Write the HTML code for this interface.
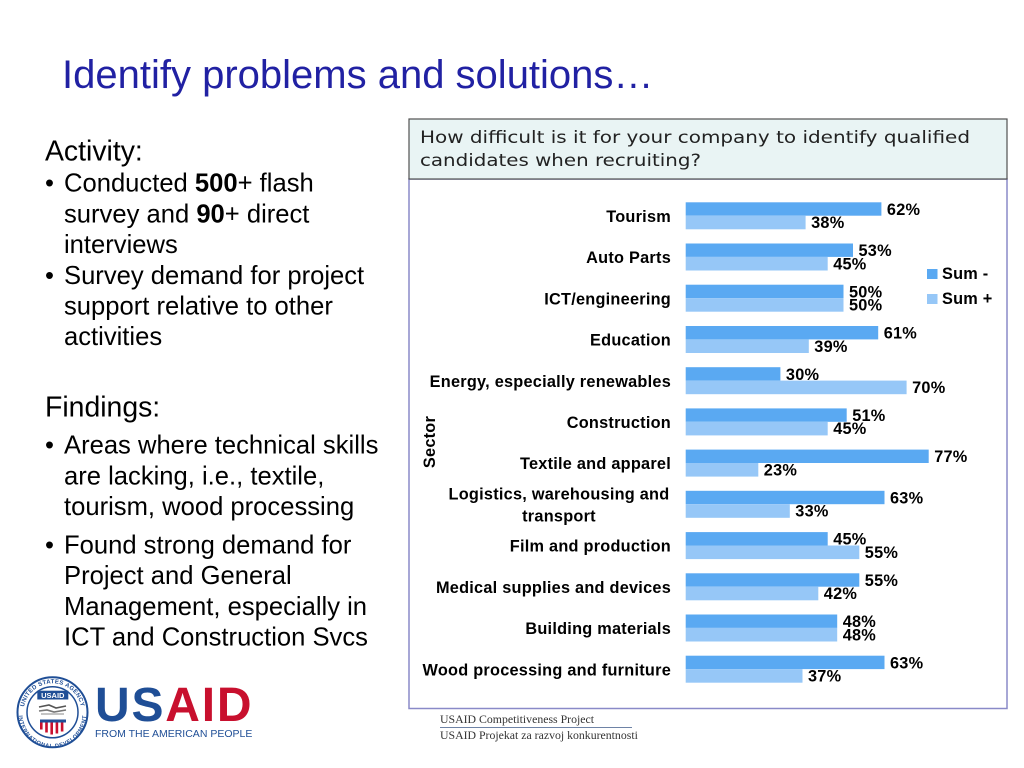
<!DOCTYPE html>
<html>
<head>
<meta charset="utf-8">
<style>
  html, body { margin:0; padding:0; background:#ffffff; }
  body { width:1024px; height:768px; overflow:hidden; }
  svg { display:block; }
  .cat { font-family:"Liberation Sans", Arial, sans-serif; font-weight:bold; font-size:16.3px; letter-spacing:0.25px; fill:#000; }
  .val { font-family:"Liberation Sans", Arial, sans-serif; font-weight:bold; font-size:16.3px; letter-spacing:0.25px; fill:#000; }
  .lt { font-family:"Liberation Sans", Arial, sans-serif; font-size:25.6px; fill:#000; }
  .hd { font-family:"Liberation Sans", Arial, sans-serif; font-size:28.4px; fill:#000; }
</style>
</head>
<body>
<svg width="1024" height="768" viewBox="0 0 1024 768" xmlns="http://www.w3.org/2000/svg">
  <rect x="0" y="0" width="1024" height="768" fill="#ffffff"/>

  <!-- Title -->
  <text x="62" y="88" font-family="Liberation Sans, Arial, sans-serif" font-size="40" fill="#2121A3">Identify problems and solutions…</text>

  <!-- Left text -->
  <text class="hd" x="45" y="160.5">Activity:</text>
  <text class="lt" x="45" y="191.7">•</text>
  <text class="lt" x="64" y="191.7">Conducted <tspan font-weight="bold">500</tspan>+ flash</text>
  <text class="lt" x="64" y="222.4">survey and <tspan font-weight="bold">90</tspan>+ direct</text>
  <text class="lt" x="64" y="253.1">interviews</text>
  <text class="lt" x="45" y="283.8">•</text>
  <text class="lt" x="64" y="283.8">Survey demand for project</text>
  <text class="lt" x="64" y="314.5">support relative to other</text>
  <text class="lt" x="64" y="345.2">activities</text>

  <text class="hd" x="45" y="416.5">Findings:</text>
  <text class="lt" x="45" y="453.7">•</text>
  <text class="lt" x="64" y="453.7">Areas where technical skills</text>
  <text class="lt" x="64" y="484.4">are lacking, i.e., textile,</text>
  <text class="lt" x="64" y="515.1">tourism, wood processing</text>
  <text class="lt" x="45" y="553.5">•</text>
  <text class="lt" x="64" y="553.5">Found strong demand for</text>
  <text class="lt" x="64" y="584.2">Project and General</text>
  <text class="lt" x="64" y="614.9">Management, especially in</text>
  <text class="lt" x="64" y="645.6">ICT and Construction Svcs</text>

  <!-- Chart box -->
  <rect x="409" y="179" width="598" height="529.5" fill="#ffffff" stroke="#8A8AC8" stroke-width="1.5"/>
  <rect x="409" y="119" width="598" height="60" fill="#E9F4F4" stroke="#505050" stroke-width="1.2"/>
  <text x="420" y="143" font-family="DejaVu Sans, Verdana, sans-serif" font-size="17" fill="#222" textLength="550" lengthAdjust="spacingAndGlyphs">How difficult is it for your company to identify qualified</text>
  <text x="420" y="166" font-family="DejaVu Sans, Verdana, sans-serif" font-size="17" fill="#222" textLength="281" lengthAdjust="spacingAndGlyphs">candidates when recruiting?</text>

  <!-- Sector axis title -->
  <text class="cat" transform="translate(435,442) rotate(-90)" text-anchor="middle" x="0" y="0">Sector</text>

  <!-- Bars -->
  <g>
    <rect x="685.7" y="202.3" width="195.7" height="13.4" fill="#5AA9F2"/>
    <rect x="685.7" y="215.7" width="119.9" height="13.6" fill="#96C7F7"/>
    <rect x="685.7" y="243.5" width="167.3" height="13.4" fill="#5AA9F2"/>
    <rect x="685.7" y="256.9" width="142.0" height="13.6" fill="#96C7F7"/>
    <rect x="685.7" y="284.7" width="157.8" height="13.4" fill="#5AA9F2"/>
    <rect x="685.7" y="298.1" width="157.8" height="13.6" fill="#96C7F7"/>
    <rect x="685.7" y="326.0" width="192.5" height="13.4" fill="#5AA9F2"/>
    <rect x="685.7" y="339.4" width="123.1" height="13.6" fill="#96C7F7"/>
    <rect x="685.7" y="367.2" width="94.7" height="13.4" fill="#5AA9F2"/>
    <rect x="685.7" y="380.6" width="220.9" height="13.6" fill="#96C7F7"/>
    <rect x="685.7" y="408.4" width="161.0" height="13.4" fill="#5AA9F2"/>
    <rect x="685.7" y="421.8" width="142.0" height="13.6" fill="#96C7F7"/>
    <rect x="685.7" y="449.6" width="243.0" height="13.4" fill="#5AA9F2"/>
    <rect x="685.7" y="463.0" width="72.6" height="13.6" fill="#96C7F7"/>
    <rect x="685.7" y="490.8" width="198.8" height="13.4" fill="#5AA9F2"/>
    <rect x="685.7" y="504.2" width="104.1" height="13.6" fill="#96C7F7"/>
    <rect x="685.7" y="532.1" width="142.0" height="13.4" fill="#5AA9F2"/>
    <rect x="685.7" y="545.5" width="173.6" height="13.6" fill="#96C7F7"/>
    <rect x="685.7" y="573.3" width="173.6" height="13.4" fill="#5AA9F2"/>
    <rect x="685.7" y="586.7" width="132.6" height="13.6" fill="#96C7F7"/>
    <rect x="685.7" y="614.5" width="151.5" height="13.4" fill="#5AA9F2"/>
    <rect x="685.7" y="627.9" width="151.5" height="13.6" fill="#96C7F7"/>
    <rect x="685.7" y="655.7" width="198.8" height="13.4" fill="#5AA9F2"/>
    <rect x="685.7" y="669.1" width="116.8" height="13.6" fill="#96C7F7"/>
  </g>

  <!-- Category labels -->
  <g text-anchor="end">
    <text class="cat" x="671" y="221.9">Tourism</text>
    <text class="cat" x="671" y="263.1">Auto Parts</text>
    <text class="cat" x="671" y="304.3">ICT/engineering</text>
    <text class="cat" x="671" y="345.6">Education</text>
    <text class="cat" x="671" y="386.8">Energy, especially renewables</text>
    <text class="cat" x="671" y="428.0">Construction</text>
    <text class="cat" x="671" y="469.2">Textile and apparel</text>
    <text class="cat" x="671" y="551.7">Film and production</text>
    <text class="cat" x="671" y="592.9">Medical supplies and devices</text>
    <text class="cat" x="671" y="634.1">Building materials</text>
    <text class="cat" x="671" y="675.3">Wood processing and furniture</text>
  </g>
  <text class="cat" x="559" y="499.3" text-anchor="middle">Logistics, warehousing and</text>
  <text class="cat" x="559" y="521.3" text-anchor="middle">transport</text>

  <!-- Value labels -->
  <g>
    <text class="val" x="886.9" y="214.9">62%</text>
    <text class="val" x="811.1" y="228.1">38%</text>
    <text class="val" x="858.5" y="256.1">53%</text>
    <text class="val" x="833.2" y="269.3">45%</text>
    <text class="val" x="849.0" y="297.3">50%</text>
    <text class="val" x="849.0" y="310.5">50%</text>
    <text class="val" x="883.7" y="338.6">61%</text>
    <text class="val" x="814.3" y="351.8">39%</text>
    <text class="val" x="785.9" y="379.8">30%</text>
    <text class="val" x="912.1" y="393.0">70%</text>
    <text class="val" x="852.2" y="421.0">51%</text>
    <text class="val" x="833.2" y="434.2">45%</text>
    <text class="val" x="934.2" y="462.2">77%</text>
    <text class="val" x="763.8" y="475.4">23%</text>
    <text class="val" x="890.0" y="503.4">63%</text>
    <text class="val" x="795.3" y="516.6">33%</text>
    <text class="val" x="833.2" y="544.7">45%</text>
    <text class="val" x="864.8" y="557.9">55%</text>
    <text class="val" x="864.8" y="585.9">55%</text>
    <text class="val" x="823.8" y="599.1">42%</text>
    <text class="val" x="842.7" y="627.1">48%</text>
    <text class="val" x="842.7" y="640.3">48%</text>
    <text class="val" x="890.0" y="668.3">63%</text>
    <text class="val" x="808.0" y="681.5">37%</text>
  </g>

  <!-- Legend -->
  <rect x="927" y="269" width="10.5" height="10" fill="#5AA9F2"/>
  <text class="val" x="942" y="279">Sum -</text>
  <rect x="927" y="294" width="10.5" height="10" fill="#96C7F7"/>
  <text class="val" x="942" y="304">Sum +</text>

  <!-- Footer project text -->
  <text x="440" y="723" font-family="Liberation Serif, Times New Roman, serif" font-size="11.8" fill="#333">USAID Competitiveness Project</text>
  <line x1="440" y1="727.5" x2="632" y2="727.5" stroke="#6E83A6" stroke-width="1"/>
  <text x="440" y="739" font-family="Liberation Serif, Times New Roman, serif" font-size="11.8" fill="#333">USAID Projekat za razvoj konkurentnosti</text>

  <!-- USAID seal -->
  <g>
    <circle cx="52.5" cy="712.3" r="35" fill="#ffffff" stroke="#1F4E96" stroke-width="2"/>
    <circle cx="52.5" cy="712.3" r="25.5" fill="#ffffff" stroke="#1F4E96" stroke-width="1.5"/>
    <defs>
      <path id="arcTop" d="M 23.5 712.3 A 29 29 0 0 1 81.5 712.3"/>
      <path id="arcBot" d="M 22 714 A 30.5 30.5 0 0 0 83 714"/>
    </defs>
    <text font-family="Liberation Sans, Arial, sans-serif" font-size="6" font-weight="bold" fill="#1F4E96" letter-spacing="0.3"><textPath href="#arcTop" startOffset="50%" text-anchor="middle">UNITED STATES AGENCY</textPath></text>
    <text font-family="Liberation Sans, Arial, sans-serif" font-size="5.5" font-weight="bold" fill="#1F4E96" letter-spacing="0.2"><textPath href="#arcBot" startOffset="50%" text-anchor="middle" dominant-baseline="hanging">INTERNATIONAL DEVELOPMENT</textPath></text>
    <rect x="37.3" y="690.7" width="31" height="8.8" fill="#1F4E96"/>
    <text x="52.8" y="698" text-anchor="middle" font-family="Liberation Sans, Arial, sans-serif" font-size="7.5" font-weight="bold" fill="#ffffff">USAID</text>
    <path d="M39 707 L49 705 L56 708 L66 706" stroke="#555" stroke-width="1.6" fill="none"/>
    <path d="M39 711 L47 710 L54 712 L66 710" stroke="#777" stroke-width="1.6" fill="none"/>
    <path d="M41 714 L64 714" stroke="#888" stroke-width="1" fill="none"/>
    <rect x="40" y="719.5" width="26" height="3" fill="#1F4E96"/>
    <path d="M40 722.5 L66 722.5 L66 728 Q66 733 53 735 Q40 733 40 728 Z" fill="#ffffff"/>
    <rect x="40" y="722.5" width="2.6" height="7" fill="#C8102E"/>
    <rect x="45.2" y="722.5" width="2.6" height="10" fill="#C8102E"/>
    <rect x="50.4" y="722.5" width="2.6" height="12" fill="#C8102E"/>
    <rect x="55.6" y="722.5" width="2.6" height="11" fill="#C8102E"/>
    <rect x="60.8" y="722.5" width="2.6" height="9" fill="#C8102E"/>
  </g>

  <!-- USAID wordmark -->
  <text x="95" y="721" font-family="Liberation Sans, Arial, sans-serif" font-size="48" font-weight="bold" letter-spacing="1.8"><tspan fill="#1F4E96">US</tspan><tspan fill="#C8102E">AID</tspan></text>
  <text x="95" y="737" font-family="Liberation Sans, Arial, sans-serif" font-size="10.5" fill="#1F4E96">FROM THE AMERICAN PEOPLE</text>
</svg>
</body>
</html>
